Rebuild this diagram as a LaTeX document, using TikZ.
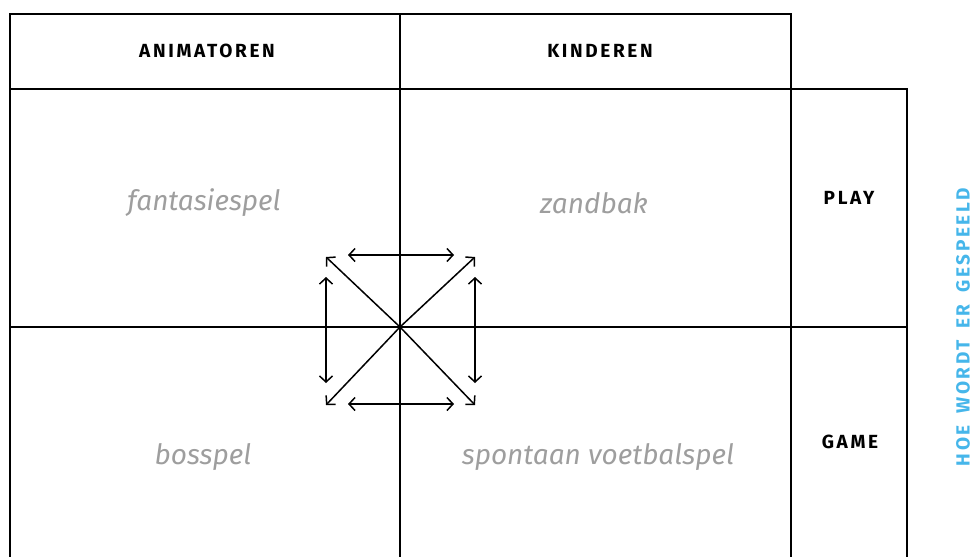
\documentclass[tikz,border=0pt]{standalone}
\usepackage{fontspec}
\setmainfont{Fira Sans}
\newfontfamily\headfont[LetterSpace=14,WordSpace=1.6]{Fira Sans}
\usepackage{xcolor}
\usetikzlibrary{arrows.meta}

\definecolor{labelgray}{RGB}{158,158,158}
\definecolor{hoeblue}{RGB}{70,182,234}

\begin{document}
\begin{tikzpicture}[x=1pt, y=-1pt,
  grid/.style={line width=2.5pt, line cap=rect},
  arrow/.style={line width=1.5pt},
  >={Straight Barb[length=6pt,width=13pt]},
  head/.style={font=\headfont\bfseries\fontsize{19}{19}\selectfont},
  game/.style={font=\itshape\fontsize{28}{28}\selectfont, text=labelgray}]
\clip (0,0) rectangle (975,557);
% table
\draw[grid] (10,580) -- (10,14) -- (791,14) -- (791,580);
\draw[grid] (10,89) -- (907,89) -- (907,580);
\draw[grid] (400,14) -- (400,580);
\draw[grid] (10,327) -- (907,327);
% column and row heads
\node[head] (anim) at (207,51) {ANIMATOREN};
\node[head] (kind) at (600,51) {KINDEREN};
\node[head] (play) at (849,198) {PLAY};
\node[head] (gameh) at (850,442) {GAME};
\node[head, text=hoeblue, rotate=90] (hoe) at (963,327) {HOE WORDT ER GESPEELD};
% the four games
\node[game] (fant) at (204,203) {fantasiespel};
\node[game] (zand) at (594,203) {zandbak};
\node[game] (boss) at (203,457) {bosspel};
\node[game] (voet) at (598,457) {spontaan voetbalspel};
% arrows round the middle
\coordinate (mid) at (400,327);
\coordinate (nw) at (326,257);
\coordinate (ne) at (475,257);
\coordinate (sw) at (326,405);
\coordinate (se) at (475,405);
\coordinate (tl) at (348,255);
\coordinate (tr) at (454,255);
\coordinate (bl) at (348,404);
\coordinate (br) at (454,404);
\coordinate (lt) at (326,277);
\coordinate (lb) at (326,383);
\coordinate (rt) at (475,277);
\coordinate (rb) at (475,383);
\foreach \c in {nw,ne,sw,se}
  \draw[arrow,->] (mid) -- (\c);
\draw[arrow,<->] (tl) -- (tr);
\draw[arrow,<->] (bl) -- (br);
\draw[arrow,<->] (lt) -- (lb);
\draw[arrow,<->] (rt) -- (rb);
\end{tikzpicture}
\end{document}
